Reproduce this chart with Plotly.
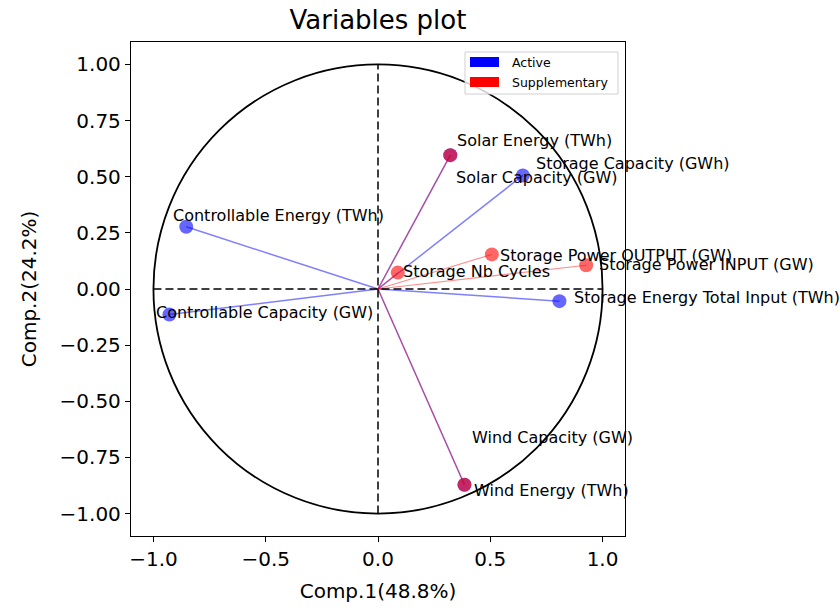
import plotly.graph_objects as go

# ---------------- data ----------------
active_names = ["Controllable Energy (TWh)", "Controllable Capacity (GW)", "Solar Capacity (GW)",
                "Storage Capacity (GWh)", "Storage Energy Total Input (TWh)", "Wind Capacity (GW)"]
active_x = [-0.854, -0.929, 0.322, 0.645, 0.808, 0.385]
active_y = [0.277, -0.114, 0.596, 0.506, -0.054, -0.872]

supp_names = ["Solar Energy (TWh)", "Wind Energy (TWh)", "Storage Nb Cycles",
              "Storage Power OUTPUT (GW)", "Storage Power INPUT (GW)"]
supp_x = [0.322, 0.385, 0.088, 0.507, 0.927]
supp_y = [0.596, -0.872, 0.073, 0.154, 0.106]

x_ticks = [-1.0, -0.5, 0.0, 0.5, 1.0]
x_tick_labels = ["\u22121.0", "\u22120.5", "0.0", "0.5", "1.0"]
y_ticks = [1.0, 0.75, 0.5, 0.25, 0.0, -0.25, -0.5, -0.75, -1.0]
y_tick_labels = ["1.00", "0.75", "0.50", "0.25", "0.00", "\u22120.25", "\u22120.50", "\u22120.75", "\u22121.00"]

title_text = "Variables plot"
x_title = "Comp.1(48.8%)"
y_title = "Comp.2(24.2%)"
legend_labels = ["Active", "Supplementary"]

# ---------------- layout / style ----------------
W, H = 840, 610
ML, MR, MT, MB = 131, 215, 42, 74
PW, PH = W - ML - MR, H - MT - MB
FONT = "DejaVu Sans"

# label offsets in pixels (dx right, dy down) from the point, text anchored left-middle
label_offsets = {
    "Controllable Energy (TWh)": (-15, -11),
    "Controllable Capacity (GW)": (-15, -2),
    "Solar Capacity (GW)": (4, 22),
    "Storage Capacity (GWh)": (11, -12),
    "Storage Energy Total Input (TWh)": (13, -4),
    "Wind Capacity (GW)": (6, -47),
    "Solar Energy (TWh)": (5, -15),
    "Wind Energy (TWh)": (8, 6),
    "Storage Nb Cycles": (3, -1),
    "Storage Power OUTPUT (GW)": (6, 1),
    "Storage Power INPUT (GW)": (11, -1),
}

BLUE_LINE = "rgba(0,0,255,0.5)"
RED_LINE = "rgba(255,0,0,0.45)"
BLUE_DOT = "rgba(0,0,255,0.6)"
RED_DOT = "rgba(255,0,0,0.6)"

fig = go.Figure()


def vectors(xs, ys):
    vx, vy = [], []
    for a, b in zip(xs, ys):
        vx += [0, a, None]
        vy += [0, b, None]
    return vx, vy


# active
vx, vy = vectors(active_x, active_y)
fig.add_trace(go.Scatter(x=vx, y=vy, mode="lines", line=dict(color=BLUE_LINE, width=1.5),
                         showlegend=False, hoverinfo="skip"))
fig.add_trace(go.Scatter(x=active_x, y=active_y, mode="markers", text=active_names,
                         marker=dict(size=14, color=BLUE_DOT, line=dict(width=0)),
                         showlegend=False))
# supplementary
vx, vy = vectors(supp_x, supp_y)
fig.add_trace(go.Scatter(x=vx, y=vy, mode="lines", line=dict(color=RED_LINE, width=1.1),
                         showlegend=False, hoverinfo="skip"))
fig.add_trace(go.Scatter(x=supp_x, y=supp_y, mode="markers", text=supp_names,
                         marker=dict(size=14, color=RED_DOT, line=dict(width=0)),
                         showlegend=False))

annotations = []
for names, xs, ys in [(active_names, active_x, active_y), (supp_names, supp_x, supp_y)]:
    for n, a, b in zip(names, xs, ys):
        dx, dy = label_offsets[n]
        annotations.append(dict(x=a, y=b, xref="x", yref="y", text=n, showarrow=False,
                                xanchor="left", yanchor="middle", xshift=dx, yshift=-dy,
                                font=dict(family=FONT, size=16, color="black")))

shapes = [
    dict(type="circle", xref="x", yref="y", x0=-1, y0=-1, x1=1, y1=1,
         line=dict(color="black", width=1.8)),
    dict(type="line", xref="x", yref="y", x0=-1, y0=0, x1=1, y1=0,
         line=dict(color="black", width=1.5, dash="8px,4px")),
    dict(type="line", xref="x", yref="y", x0=0, y0=-1, x1=0, y1=1,
         line=dict(color="black", width=1.5, dash="8px,4px")),
]


def px(xp):
    return (xp - ML) / PW


def py(yp):
    return (MT + PH - yp) / PH


# manual legend (matplotlib-style patches)
shapes.append(dict(type="rect", xref="paper", yref="paper", x0=px(465), x1=px(618), y0=py(94), y1=py(52),
                   line=dict(color="#d0d0d0", width=1), fillcolor="rgba(255,255,255,0.8)", layer="above"))
legend_colors = ["blue", "red"]
for i, (lab, col) in enumerate(zip(legend_labels, legend_colors)):
    top = 57 + 20 * i
    shapes.append(dict(type="rect", xref="paper", yref="paper", x0=px(470), x1=px(499),
                       y0=py(top + 10), y1=py(top), line=dict(width=0), fillcolor=col, layer="above"))
    annotations.append(dict(x=px(510), y=py(top + 5), xref="paper", yref="paper", text=lab,
                            showarrow=False, xanchor="left", yanchor="middle",
                            font=dict(family=FONT, size=12.5, color="black")))

axis_common = dict(showgrid=False, zeroline=False, showline=True, mirror=True, linecolor="black",
                   linewidth=1.3, ticks="outside", ticklen=5, tickwidth=1.3, tickcolor="black",
                   tickfont=dict(family=FONT, size=20, color="black"), automargin=False)

fig.update_layout(
    width=W, height=H,
    margin=dict(l=ML, r=MR, t=MT, b=MB),
    paper_bgcolor="white", plot_bgcolor="white",
    title=dict(text=title_text, x=0.5, xref="paper", y=1 - 20 / H, yref="container",
               xanchor="center", yanchor="middle", font=dict(family=FONT, size=26, color="black")),
    xaxis=dict(range=[-1.1, 1.1], tickvals=x_ticks, ticktext=x_tick_labels,
               title=dict(text=x_title, font=dict(family=FONT, size=20, color="black"), standoff=13),
               **axis_common),
    yaxis=dict(range=[-1.1, 1.1], tickvals=y_ticks, ticktext=y_tick_labels,
               title=dict(text=y_title, font=dict(family=FONT, size=20, color="black"), standoff=17),
               **axis_common),
    shapes=shapes,
    annotations=annotations,
    showlegend=False,
)

fig.write_html("out.html")
